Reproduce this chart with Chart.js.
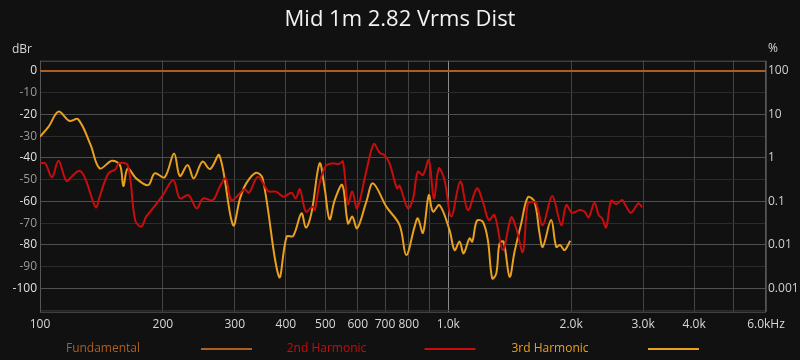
<!DOCTYPE html>
<html>
<head>
<meta charset="utf-8">
<script src="https://cdn.jsdelivr.net/npm/chart.js@4"></script>
<style>
  html, body { margin: 0; padding: 0; background: #111111; }
  #wrap { width: 800px; height: 360px; }
</style>
</head>
<body>
<div id="wrap"><canvas id="dist" width="800" height="360"></canvas></div>
<script>
// ── DATA ─────────────────────────────────────────────────────────────
const fundFreq = [100, 6000]
const fundDb = [0, 0]

const h2Freq = [100, 103, 107, 111, 116, 120, 125, 129, 137, 140, 147, 153, 156, 164, 171, 177, 182, 189, 200, 212,
  220, 231, 242, 251, 265, 276, 285, 294, 306, 317, 325, 342, 362, 379, 395, 413, 423, 433, 448, 465,
  471, 484, 501, 522, 540, 552, 568, 582, 598, 628, 657, 679, 698, 718, 749, 760, 796, 819, 842, 867,
  896, 922, 948, 979, 1017, 1070, 1117, 1175, 1215, 1257, 1298, 1360, 1426, 1467, 1523, 1566, 1611, 1642, 1704, 1797,
  1891, 1945, 2011, 2096, 2156, 2208, 2280, 2336, 2381, 2436, 2505, 2577, 2665, 2715, 2804, 2922, 2984]
const h2Db = [-42.5, -42.5, -48.9, -41.3, -50.5, -48.3, -45.9, -49.4, -62.7, -57.8, -47.1, -45.2, -42.5, -43.3, -68.6, -71.6, -67, -63.2, -57.1, -50.2,
  -58.6, -57.1, -63.2, -58.6, -59.4, -53, -49.4, -59.4, -57.1, -54.4, -56, -48.6, -55.2, -55.5, -57.8, -56, -58.6, -54.4, -64.7, -62.4,
  -64, -51.7, -43.7, -42.5, -42.8, -41.7, -61.2, -55.5, -63.2, -47.1, -33.6, -37.6, -38.7, -42.5, -54, -52.8, -63.2, -59, -46.3, -47.9,
  -41, -58.6, -44.8, -50.2, -67, -50.9, -64, -54, -60.1, -68.6, -66.3, -82.4, -67.3, -72.4, -83.2, -60.9, -60.1, -60.9, -70.9, -57.5,
  -70.9, -61.7, -65.2, -64, -64.7, -67.3, -60.6, -66.3, -67.8, -71.9, -59.7, -61.2, -59.4, -61.7, -65.2, -60.9, -62.7]

const h3Freq = [100, 105, 111, 118, 124, 133, 140, 150, 157, 160, 164, 172, 184, 191, 202, 213, 220, 230, 238, 250,
  261, 275, 297, 309, 320, 338, 351, 385, 402, 417, 437, 448, 462, 484, 498, 512, 527, 550, 568, 582,
  598, 630, 654, 705, 760, 789, 827, 842, 867, 896, 917, 952, 1007, 1036, 1066, 1090, 1127, 1145, 1175, 1215,
  1250, 1281, 1311, 1335, 1366, 1413, 1453, 1509, 1566, 1626, 1673, 1704, 1786, 1838, 1880, 1926, 1989]
const h3Db = [-30.2, -25.6, -18.7, -22.9, -22.2, -34, -44.8, -41.3, -43.3, -52.9, -44.8, -49.4, -52.5, -47.1, -48.9, -37.9, -48.3, -43.3, -49.4, -41.7,
  -45.1, -38.8, -70.9, -58.6, -51.7, -46.8, -49.4, -94.7, -76.2, -75.9, -65.5, -72.1, -65.5, -42.5, -54, -68.3, -59.4, -52.5, -70.1, -67,
  -72.4, -60.1, -51.7, -62.4, -70.9, -84.7, -71.6, -67.8, -74.4, -57.1, -64.7, -61.7, -73.2, -82.4, -78.5, -83.9, -77, -78.5, -68.9, -69.4,
  -77.8, -95.4, -93.1, -79.3, -78.5, -94.7, -83.2, -70.1, -58.1, -60.1, -74.7, -80.9, -68.6, -80.9, -80.1, -82.4, -78.1]

const freqTicks = [100, 200, 300, 400, 500, 600, 700, 800, 900, 1000, 2000, 3000, 4000, 5000, 6000]
const freqLabels = ['100', '200', '300', '400', '500', '600', '700', '800', '', '1.0k', '2.0k', '3.0k', '4.0k', '', '6.0kHz']
const dbTicks = [0, -10, -20, -30, -40, -50, -60, -70, -80, -90, -100]
const pctTicks = [100, 10, 1, 0.1, 0.01, 0.001]
const pctLabels = ['100', '10', '1', '0.1', '0.01', '0.001']

// ── STYLE ────────────────────────────────────────────────────────────
const DB_MAX = 4.75, DB_MIN = -110.75
const toPct = db => 100 * Math.pow(10, db / 20)
const FONT = "'Open Sans', 'Noto Sans', sans-serif"
const COL_FUND = '#ad5f22', COL_H2 = '#c80d0d', COL_H3 = '#e8a01e'

const pts = (xs, ys) => xs.map((x, i) => ({ x, y: ys[i] }))

// frame, corner labels and the legend are drawn by hand
const decorations = {
  id: 'decorations',
  beforeDatasetsDraw(chart) {
    const { ctx, chartArea: a } = chart
    ctx.save()
    ctx.strokeStyle = '#555555'
    ctx.lineWidth = 1
    ctx.strokeRect(a.left + 0.5, a.top + 0.5, a.right - a.left - 1, a.bottom - a.top)
    ctx.restore()
  },
  afterDraw(chart) {
    const { ctx } = chart
    ctx.save()
    ctx.font = `12px ${FONT}`
    ctx.fillStyle = '#d8d8d8'
    ctx.textBaseline = 'middle'
    ctx.textAlign = 'center'
    ctx.fillText('dBr', 22, 50)
    ctx.fillText('%', 773, 49)
    // legend: text, then a line sample
    ctx.font = `12px ${FONT}`
    chart.data.datasets.forEach((ds, i) => {
      const cx = 103 + i * 223.5
      ctx.fillStyle = ds.borderColor
      ctx.fillText(ds.label, cx, 349)
      ctx.strokeStyle = ds.borderColor
      ctx.lineWidth = 2
      ctx.beginPath()
      ctx.moveTo(cx + 98, 349)
      ctx.lineTo(cx + 149, 349)
      ctx.stroke()
    })
    ctx.restore()
  }
}

new Chart(document.getElementById('dist'), {
  type: 'line',
  data: {
    datasets: [
      { label: 'Fundamental', data: pts(fundFreq, fundDb), borderColor: COL_FUND, borderWidth: 2, tension: 0 },
      { label: '2nd Harmonic', data: pts(h2Freq, h2Db), borderColor: COL_H2, borderWidth: 2, tension: 0.35 },
      { label: '3rd Harmonic', data: pts(h3Freq, h3Db), borderColor: COL_H3, borderWidth: 2, tension: 0.35 }
    ]
  },
  options: {
    responsive: false,
    animation: false,
    events: [],
    elements: { point: { radius: 0 } },
    layout: { padding: { left: 0, right: 0, top: 0, bottom: 22.3 } },
    plugins: {
      legend: { display: false },
      tooltip: { enabled: false },
      title: {
        display: true,
        text: 'Mid 1m 2.82 Vrms Dist',
        color: '#f2f2f2',
        font: { family: FONT, size: 22, weight: 'normal', lineHeight: 1.2 },
        padding: { top: 7, bottom: 27.3 }
      }
    },
    scales: {
      x: {
        type: 'logarithmic',
        min: 100,
        max: 6000,
        afterBuildTicks: s => { s.ticks = freqTicks.map(v => ({ value: v })) },
        afterFit: s => { s.height = 26 },
        ticks: {
          color: '#d8d8d8',
          font: { family: FONT, size: 12 },
          padding: 6,
          maxRotation: 0,
          autoSkip: false,
          callback: (v, i) => freqLabels[i]
        },
        grid: {
          drawTicks: false,
          color: c => c.tick && c.tick.value === 1000 ? '#8a8a8a' : '#444444'
        },
        border: { display: false }
      },
      y: {
        type: 'linear',
        position: 'left',
        min: DB_MIN,
        max: DB_MAX,
        afterBuildTicks: s => {
          const t = []
          for (let v = 0; v >= -110; v -= 5) t.push({ value: v })
          s.ticks = t
        },
        afterFit: s => { s.width = 40 },
        ticks: {
          font: { family: FONT, size: 12 },
          padding: 3,
          color: c => c.tick.value % 20 === 0 ? '#e0e0e0' : '#9a9a9a',
          callback: v => dbTicks.includes(v) ? String(v) : ''
        },
        grid: {
          drawTicks: false,
          color: c => c.tick && c.tick.value % 20 === 0 ? '#505050' : '#2c2c2c'
        },
        border: { display: false }
      },
      pct: {
        type: 'logarithmic',
        position: 'right',
        min: toPct(DB_MIN),
        max: toPct(DB_MAX),
        afterBuildTicks: s => { s.ticks = pctTicks.map(v => ({ value: v })) },
        afterFit: s => { s.width = 34 },
        ticks: {
          font: { family: FONT, size: 12 },
          padding: 2,
          color: '#d0d0d0',
          callback: (v, i) => pctLabels[i]
        },
        grid: { display: false, drawTicks: false },
        border: { display: false }
      }
    }
  },
  plugins: [decorations]
})
</script>
</body>
</html>
